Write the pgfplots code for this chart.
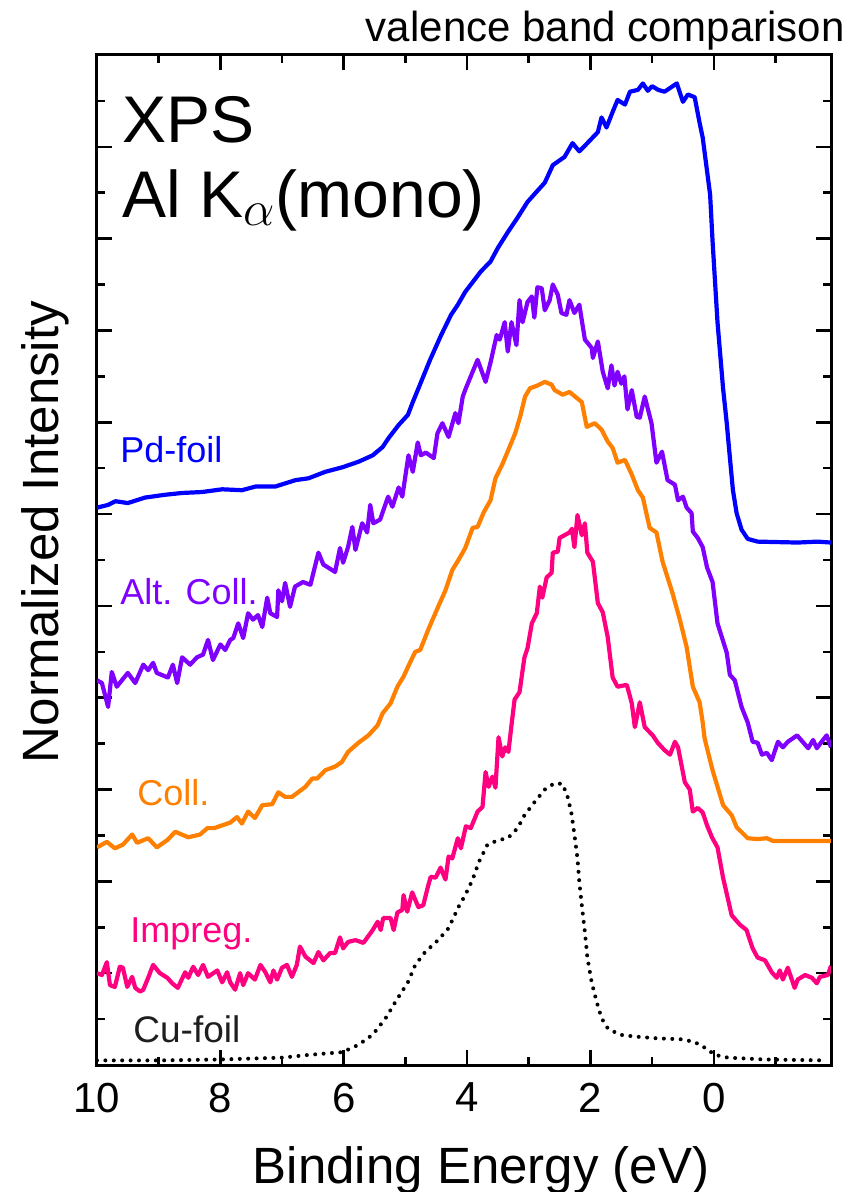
\documentclass[border=0pt]{standalone}
\usepackage{pgfplots}
\pgfplotsset{compat=1.18}
\usepackage{fontspec}
\setmainfont{Liberation Sans}
\definecolor{cBlue}{RGB}{0,0,255}
\definecolor{cPurple}{RGB}{128,0,255}
\definecolor{cOrange}{RGB}{255,128,0}
\definecolor{cPink}{RGB}{255,0,128}
\definecolor{cGray}{RGB}{30,30,30}
\begin{document}
\begin{tikzpicture}
\begin{axis}[
  scale only axis, width=367pt, height=505pt,
  xmin=-1.9, xmax=10, x dir=reverse, ymin=0, ymax=11,
  xtick={0,2,4,6,8,10}, minor xtick={-1,1,3,5,7,9},
  ytick={0,1,...,11}, minor ytick={0.5,1.5,...,10.5}, yticklabels={},
  tick align=inside, major tick length=7.5pt, minor tick length=4pt,
  every tick/.style={black, line width=1.3pt},
  axis line style={line width=1.5pt},
  /pgf/number format/assume math mode=true,
  xticklabel style={font=\fontsize{21}{21}\selectfont, yshift=-5.5pt},
  every axis plot/.style={line width=2.1pt, line join=round},
]
\addplot[cBlue] coordinates {
(10.0,6.07)(9.82,6.10)(9.7,6.14)(9.5,6.12)(9.22,6.18)(8.9,6.21)(8.62,6.23)(8.3,6.24)(7.97,6.27)(7.65,6.26)(7.43,6.30)(7.11,6.30)(6.78,6.37)(6.57,6.39)(6.30,6.46)(6.02,6.51)(5.76,6.57)(5.53,6.64)(5.37,6.73)(5.27,6.83)(5.11,6.97)(4.96,7.08)(4.88,7.22)(4.80,7.35)(4.60,7.68)(4.42,7.95)(4.26,8.17)(4.15,8.28)(4.03,8.42)(3.78,8.64)(3.62,8.75)(3.50,8.90)(3.34,9.07)(3.18,9.23)(3.02,9.40)(2.74,9.61)(2.61,9.80)(2.42,9.89)(2.29,10.04)(2.18,9.95)(2.05,10.04)(1.88,10.16)(1.82,10.32)(1.74,10.21)(1.64,10.38)(1.56,10.51)(1.44,10.46)(1.36,10.60)(1.23,10.62)(1.15,10.69)(1.07,10.61)(1.00,10.66)(0.90,10.62)(0.80,10.60)(0.71,10.64)(0.60,10.69)(0.50,10.49)(0.42,10.57)(0.31,10.54)(0.23,10.26)(0.18,10.10)(0.06,9.48)(0.02,8.97)(-0.06,8.09)(-0.15,7.37)(-0.21,6.99)(-0.26,6.62)(-0.31,6.26)(-0.37,6.01)(-0.45,5.83)(-0.55,5.73)(-0.71,5.70)(-1.36,5.69)(-1.68,5.70)(-1.9,5.69)
};
\addplot[cPurple] coordinates {
(10.0,4.19)(9.92,4.16)(9.82,3.90)(9.76,4.28)(9.68,4.12)(9.50,4.27)(9.38,4.16)(9.25,4.36)(9.17,4.30)(9.09,4.38)(9.03,4.27)(8.85,4.22)(8.77,4.36)(8.70,4.16)(8.62,4.44)(8.49,4.36)(8.38,4.44)(8.28,4.47)(8.20,4.63)(8.12,4.41)(8.00,4.58)(7.92,4.52)(7.84,4.63)(7.79,4.65)(7.71,4.81)(7.63,4.65)(7.55,4.92)(7.47,4.85)(7.39,4.90)(7.32,4.77)(7.24,5.09)(7.19,4.92)(7.08,4.88)(7.06,5.17)(7.00,5.05)(6.95,5.25)(6.87,4.99)(6.79,5.21)(6.66,5.26)(6.54,5.23)(6.41,5.58)(6.33,5.45)(6.14,5.37)(6.06,5.63)(6.01,5.47)(5.93,5.64)(5.86,5.86)(5.81,5.61)(5.70,5.90)(5.62,5.80)(5.57,6.10)(5.52,5.90)(5.41,5.94)(5.28,6.19)(5.21,6.08)(5.11,6.29)(5.05,6.19)(4.95,6.64)(4.88,6.46)(4.80,6.78)(4.75,6.64)(4.67,6.67)(4.54,6.61)(4.48,6.88)(4.40,6.99)(4.30,6.84)(4.19,7.10)(4.14,6.99)(4.07,7.28)(4.02,7.37)(3.83,7.68)(3.70,7.44)(3.62,7.65)(3.52,7.95)(3.47,7.90)(3.39,8.09)(3.34,7.77)(3.28,8.09)(3.20,7.84)(3.15,8.33)(3.10,8.09)(3.02,8.31)(2.95,8.37)(2.91,8.14)(2.86,8.47)(2.79,8.46)(2.74,8.22)(2.66,8.33)(2.61,8.50)(2.53,8.39)(2.47,8.19)(2.39,8.17)(2.34,8.33)(2.26,8.19)(2.18,8.28)(2.09,7.90)(1.98,7.81)(1.96,7.70)(1.88,7.88)(1.80,7.55)(1.72,7.37)(1.66,7.62)(1.61,7.40)(1.56,7.55)(1.50,7.42)(1.45,7.50)(1.40,7.14)(1.33,7.35)(1.25,7.06)(1.20,7.05)(1.12,7.28)(1.01,6.99)(0.93,6.56)(0.84,6.68)(0.75,6.37)(0.63,6.32)(0.58,6.15)(0.50,6.19)(0.44,6.07)(0.36,6.01)(0.34,5.81)(0.26,5.74)(0.18,5.64)(0.11,5.42)(0.02,5.26)(-0.06,4.81)(-0.13,4.66)(-0.21,4.49)(-0.26,4.25)(-0.34,4.19)(-0.45,3.90)(-0.55,3.73)(-0.63,3.52)(-0.71,3.51)(-0.78,3.38)(-0.86,3.40)(-0.94,3.32)(-1.04,3.52)(-1.12,3.46)(-1.20,3.52)(-1.35,3.59)(-1.53,3.45)(-1.61,3.54)(-1.67,3.45)(-1.77,3.54)(-1.83,3.59)(-1.90,3.46)
};
\addplot[cOrange] coordinates {
(10.0,2.37)(9.84,2.43)(9.71,2.36)(9.58,2.40)(9.43,2.51)(9.35,2.42)(9.17,2.47)(9.03,2.37)(8.86,2.45)(8.73,2.54)(8.52,2.48)(8.33,2.51)(8.21,2.58)(8.10,2.58)(7.97,2.61)(7.84,2.64)(7.73,2.70)(7.65,2.63)(7.55,2.76)(7.44,2.69)(7.32,2.83)(7.16,2.84)(7.06,2.97)(6.95,2.92)(6.84,2.92)(6.62,3.03)(6.51,3.12)(6.43,3.12)(6.30,3.21)(6.14,3.25)(6.03,3.30)(5.93,3.41)(5.76,3.51)(5.60,3.59)(5.45,3.70)(5.37,3.83)(5.24,3.94)(5.13,4.12)(5.03,4.23)(4.92,4.39)(4.84,4.50)(4.76,4.52)(4.63,4.74)(4.47,4.99)(4.35,5.17)(4.24,5.39)(4.14,5.50)(4.03,5.63)(3.91,5.85)(3.83,5.86)(3.73,6.02)(3.62,6.15)(3.54,6.39)(3.43,6.54)(3.33,6.70)(3.22,6.88)(3.14,7.06)(3.06,7.28)(2.98,7.37)(2.86,7.40)(2.74,7.44)(2.63,7.41)(2.58,7.35)(2.45,7.30)(2.34,7.33)(2.14,7.22)(2.06,6.95)(1.93,6.99)(1.82,6.92)(1.72,6.79)(1.64,6.72)(1.56,6.56)(1.44,6.59)(1.33,6.43)(1.23,6.26)(1.15,6.18)(1.04,5.85)(0.93,5.80)(0.83,5.48)(0.67,5.14)(0.55,4.85)(0.44,4.55)(0.34,4.12)(0.23,3.95)(0.18,3.73)(0.15,3.56)(0.02,3.21)(-0.15,2.83)(-0.29,2.72)(-0.37,2.59)(-0.55,2.47)(-0.71,2.46)(-0.86,2.47)(-0.96,2.44)(-1.36,2.44)(-1.90,2.44)
};
\addplot[cPink] coordinates {
(10.0,1.00)(9.92,0.98)(9.84,1.12)(9.79,0.87)(9.71,0.85)(9.63,1.07)(9.58,1.06)(9.51,0.85)(9.43,0.96)(9.38,0.84)(9.30,0.80)(9.25,0.82)(9.17,0.95)(9.09,1.09)(8.98,1.00)(8.86,0.95)(8.78,0.89)(8.69,0.84)(8.57,1.01)(8.52,0.95)(8.44,1.07)(8.36,0.98)(8.28,1.09)(8.20,0.96)(8.05,1.03)(7.97,0.90)(7.89,1.01)(7.84,0.90)(7.76,0.82)(7.68,1.00)(7.63,0.87)(7.55,1.00)(7.44,0.93)(7.35,1.09)(7.27,1.01)(7.19,0.90)(7.14,1.03)(7.08,0.93)(7.00,1.06)(6.92,1.09)(6.84,0.96)(6.76,1.09)(6.71,1.29)(6.62,1.18)(6.49,1.11)(6.41,1.23)(6.33,1.14)(6.22,1.22)(6.14,1.22)(6.06,1.39)(6.01,1.27)(5.93,1.34)(5.81,1.36)(5.68,1.33)(5.53,1.47)(5.45,1.56)(5.40,1.47)(5.36,1.60)(5.24,1.60)(5.19,1.47)(5.13,1.66)(5.05,1.69)(5.03,1.85)(4.97,1.67)(4.89,1.88)(4.79,1.72)(4.71,1.74)(4.64,1.93)(4.59,2.05)(4.51,2.04)(4.43,2.15)(4.35,2.02)(4.30,2.27)(4.24,2.25)(4.15,2.47)(4.10,2.36)(4.02,2.60)(3.94,2.58)(3.83,2.76)(3.75,2.81)(3.70,3.19)(3.65,3.03)(3.59,3.14)(3.54,3.02)(3.49,3.57)(3.43,3.36)(3.38,3.46)(3.33,3.41)(3.28,3.70)(3.23,3.98)(3.15,4.06)(3.07,4.44)(3.02,4.54)(2.95,4.81)(2.87,4.92)(2.82,5.21)(2.78,5.09)(2.71,5.31)(2.63,5.36)(2.61,5.58)(2.53,5.59)(2.50,5.74)(2.42,5.77)(2.34,5.80)(2.30,5.84)(2.26,5.64)(2.21,5.99)(2.14,5.77)(2.09,5.90)(2.05,5.58)(1.96,5.48)(1.88,5.03)(1.80,4.93)(1.72,4.66)(1.64,4.22)(1.56,4.12)(1.41,4.14)(1.33,3.94)(1.28,3.68)(1.20,3.95)(1.12,3.68)(0.99,3.59)(0.91,3.51)(0.80,3.43)(0.71,3.38)(0.63,3.52)(0.58,3.46)(0.47,3.08)(0.39,3.00)(0.34,2.76)(0.26,2.80)(0.18,2.75)(0.11,2.61)(0.03,2.48)(-0.06,2.37)(-0.15,2.04)(-0.29,1.63)(-0.42,1.53)(-0.53,1.47)(-0.63,1.27)(-0.71,1.17)(-0.83,1.14)(-0.94,1.01)(-1.02,0.95)(-1.07,1.03)(-1.12,0.93)(-1.20,1.06)(-1.31,0.84)(-1.36,0.93)(-1.48,0.98)(-1.59,0.95)(-1.67,0.89)(-1.72,0.96)(-1.85,0.98)(-1.90,1.08)
};
\addplot[black, line width=2pt, line cap=round, dash pattern=on 0pt off 4.2pt] coordinates {
(10.0,0.05)(9.0,0.05)(8.0,0.06)(7.0,0.08)(6.57,0.11)(6.02,0.14)(5.76,0.22)(5.53,0.33)(5.32,0.51)(5.16,0.69)(4.96,0.90)(4.84,1.09)(4.68,1.23)(4.47,1.36)(4.30,1.49)(4.14,1.72)(4.03,1.85)(3.91,2.02)(3.81,2.21)(3.67,2.40)(3.49,2.45)(3.34,2.47)(3.18,2.58)(3.07,2.72)(2.91,2.86)(2.74,3.00)(2.58,3.07)(2.45,3.06)(2.37,2.92)(2.31,2.75)(2.26,2.51)(2.21,2.25)(2.18,1.99)(2.14,1.74)(2.09,1.45)(2.05,1.17)(1.98,0.90)(1.90,0.69)(1.82,0.51)(1.72,0.40)(1.53,0.33)(1.28,0.31)(0.91,0.29)(0.52,0.28)(0.31,0.25)(0.15,0.19)(-0.02,0.11)(-0.23,0.08)(-0.83,0.06)(-1.84,0.05)
};
\end{axis}
\node[anchor=base east, inner sep=0, font=\fontsize{21}{21}\selectfont] at (374pt,511.5pt) {valence band comparison};
\node[anchor=base west, inner sep=0, font=\fontsize{33}{33}\selectfont] at (12.5pt,461pt) {XPS};
\node[anchor=base west, inner sep=0, font=\fontsize{33}{33}\selectfont] at (12.5pt,423.5pt) {Al K$_{\alpha}$(mono)};
\node[anchor=base west, inner sep=0, text=cBlue, font=\fontsize{18}{18}\selectfont] at (11.5pt,301pt) {Pd-foil};
\node[anchor=base west, inner sep=0, text=cPurple, font=\fontsize{18}{18}\selectfont] at (11.5pt,230pt) {Alt. Coll.};
\node[anchor=base west, inner sep=0, text=cOrange, font=\fontsize{18}{18}\selectfont] at (20pt,129.5pt) {Coll.};
\node[anchor=base west, inner sep=0, text=cPink, font=\fontsize{18}{18}\selectfont] at (16.5pt,61pt) {Impreg.};
\node[anchor=base west, inner sep=0, text=cGray, font=\fontsize{18.5}{18.5}\selectfont] at (18pt,11.5pt) {Cu-foil};
\node[anchor=base, inner sep=0, rotate=90, font=\fontsize{25.5}{25.5}\selectfont] at (-19.5pt,266.5pt) {Normalized Intensity};
\node[anchor=base, inner sep=0, font=\fontsize{25.5}{25.5}\selectfont] at (192pt,-59pt) {Binding Energy (eV)};
\pgfresetboundingbox
\path[use as bounding box] (-48.5pt,-63.5pt) rectangle (375.5pt,532.5pt);
\end{tikzpicture}
\end{document}
